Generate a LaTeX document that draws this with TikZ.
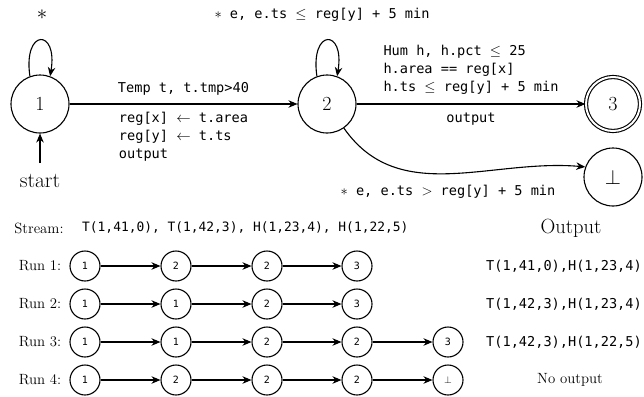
\documentclass[tikz,border=0pt]{standalone}
\usepackage{fontspec}
\setmonofont{DejaVu Sans Mono}
\usepackage{tikz}
\usetikzlibrary{arrows.meta}

\begin{document}
\begin{tikzpicture}[x=1pt,y=-1pt,>={Stealth[length=9pt,width=7.5pt]},
  state/.style={circle,draw=black,line width=1.1pt,minimum size=58pt,inner sep=0pt,font=\fontsize{20}{24}\selectfont},
  final/.style={state,double,double distance=2pt,minimum size=54pt},
  runstate/.style={circle,draw=black,line width=1.1pt,minimum size=30pt,inner sep=0pt,font=\ttfamily\fontsize{10}{11}\selectfont},
  code/.style={font=\ttfamily\fontsize{13.6}{18}\selectfont,align=left,inner sep=0pt},
  streamtext/.style={font=\ttfamily\fontsize{12.9}{15}\selectfont,inner sep=0pt},
  lab/.style={font=\fontsize{14.8}{17}\selectfont,inner sep=0pt},
  biglab/.style={font=\fontsize{21.5}{24}\selectfont,inner sep=0pt},
  edge/.style={->,draw=black,line width=1.1pt}]
\useasboundingbox (0,0) rectangle (644,396);
\node[state] (one) at (40,104) {1};
\node[state] (two) at (327,104) {2};
\node[final] (three) at (613,104) {3};
\node[state] (fail) at (613,177) {$\bot$};
\node[biglab] (loopone) at (42,15) {$\ast$};
\node[code] (looptwo) at (322,15) {$\ast$ e, e.ts $\leq$ reg[y] + 5 min};
\node[biglab] (start) at (40,181) {start};
\coordinate (startpt) at (40,163);
\draw[edge] (one.110) .. controls +(-7,-48) and +(8,-48) .. (one.70);
\draw[edge] (two.110) .. controls +(-7,-48) and +(8,-48) .. (two.70);
\draw[edge] (startpt) -- (one);
\draw[edge] (one) -- node[code,above=8pt] {Temp t, t.tmp>40} node[code,below=8pt] {reg[x] $\leftarrow$ t.area\\reg[y] $\leftarrow$ t.ts\\output} (two);
\draw[edge] (two) -- node[code,above=9pt] {Hum h, h.pct $\leq$ 25\\h.area == reg[x]\\h.ts $\leq$ reg[y] + 5 min} node[code,below=8pt] {output} (three);
\draw[edge] (two.-55) to[out=-55,in=175] (fail.160);
\node[code] (failguard) at (448,192) {$\ast$ e, e.ts $>$ reg[y] + 5 min};
\node[lab] (streamlab) at (39,228) {Stream:};
\node[streamtext,anchor=west] (stream) at (82,228) {T(1,41,0), T(1,42,3), H(1,23,4), H(1,22,5)};
\node[biglab,font=\fontsize{20.5}{22}\selectfont] (outlab) at (571,228) {Output};
\node[lab] (runa) at (40,266) {Run 1:};
\node[lab] (runb) at (40,304) {Run 2:};
\node[lab] (runc) at (40,342) {Run 3:};
\node[lab] (rund) at (40,380) {Run 4:};
\node[runstate] (r1a) at (85,266) {1};
\node[runstate] (r1b) at (176,266) {2};
\node[runstate] (r1c) at (267,266) {2};
\node[runstate] (r1d) at (357,266) {3};
\node[runstate] (r2a) at (85,304) {1};
\node[runstate] (r2b) at (176,304) {1};
\node[runstate] (r2c) at (267,304) {2};
\node[runstate] (r2d) at (357,304) {3};
\node[runstate] (r3a) at (85,342) {1};
\node[runstate] (r3b) at (176,342) {1};
\node[runstate] (r3c) at (267,342) {2};
\node[runstate] (r3d) at (357,342) {2};
\node[runstate] (r3e) at (448,342) {3};
\node[runstate] (r4a) at (85,380) {1};
\node[runstate] (r4b) at (176,380) {2};
\node[runstate] (r4c) at (267,380) {2};
\node[runstate] (r4d) at (357,380) {2};
\node[runstate] (r4e) at (448,380) {$\bot$};
\draw[edge] (r1a) -- (r1b);
\draw[edge] (r1b) -- (r1c);
\draw[edge] (r1c) -- (r1d);
\draw[edge] (r2a) -- (r2b);
\draw[edge] (r2b) -- (r2c);
\draw[edge] (r2c) -- (r2d);
\draw[edge] (r3a) -- (r3b);
\draw[edge] (r3b) -- (r3c);
\draw[edge] (r3c) -- (r3d);
\draw[edge] (r3d) -- (r3e);
\draw[edge] (r4a) -- (r4b);
\draw[edge] (r4b) -- (r4c);
\draw[edge] (r4c) -- (r4d);
\draw[edge] (r4d) -- (r4e);
\node[code,anchor=west] (outa) at (486,266) {T(1,41,0),H(1,23,4)};
\node[code,anchor=west] (outb) at (486,304) {T(1,42,3),H(1,23,4)};
\node[code,anchor=west] (outc) at (486,342) {T(1,42,3),H(1,22,5)};
\node[lab] (outd) at (570,380) {No output};
\end{tikzpicture}
\end{document}
